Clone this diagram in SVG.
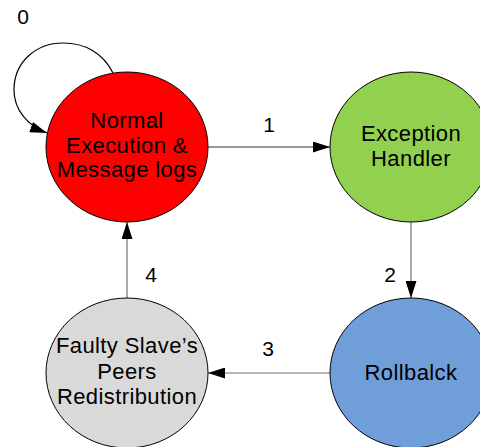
<svg xmlns="http://www.w3.org/2000/svg" width="480" height="447" viewBox="0 0 480 447">
<style>
.node{stroke:#000;stroke-width:1}
.t{font-family:"Liberation Sans",Arial,sans-serif;font-size:22px;letter-spacing:0.4px;fill:#000;text-anchor:middle}
.lbl{font-family:"Liberation Sans",Arial,sans-serif;font-size:21px;fill:#000;text-anchor:middle}
.c{fill:none;stroke-width:1.2}
</style>
<defs>
<marker id="ah" markerUnits="userSpaceOnUse" markerWidth="17" markerHeight="11" refX="17" refY="5.5" orient="auto">
<path d="M0,0 L17,5.5 L0,11 z" fill="#000"/>
</marker>
</defs>
<rect width="480" height="447" fill="#fff"/>
<g id="connectors">
<path class="c" stroke="#000" d="M113,73 C103,53 85,43 63,43 C36,43 14,62 14,90 C14,110 28,126 47,133" marker-end="url(#ah)"/>
<line class="c" stroke="#333" x1="208" y1="147" x2="330" y2="147" marker-end="url(#ah)"/>
<line class="c" stroke="#707070" x1="411" y1="222" x2="411" y2="298" marker-end="url(#ah)"/>
<line class="c" stroke="#707070" x1="330" y1="373" x2="208" y2="373" marker-end="url(#ah)"/>
<line class="c" stroke="#707070" x1="127" y1="298" x2="127" y2="222" marker-end="url(#ah)"/>
<text class="lbl" x="23" y="24">0</text>
<text class="lbl" x="269" y="132">1</text>
<text class="lbl" x="390" y="282">2</text>
<text class="lbl" x="268" y="356">3</text>
<text class="lbl" x="151" y="282">4</text>
</g>
<g id="normal">
<ellipse class="node" cx="127" cy="147" rx="81" ry="75" fill="#FF0000"/>
<text class="t" x="127" y="128">Normal</text>
<text class="t" x="127" y="153">Execution &amp;</text>
<text class="t" x="127" y="177">Message logs</text>
</g>
<g id="exception">
<ellipse class="node" cx="411" cy="147" rx="81" ry="75" fill="#92D050"/>
<text class="t" x="411" y="141">Exception</text>
<text class="t" x="411" y="166">Handler</text>
</g>
<g id="rollback">
<ellipse class="node" cx="411" cy="373" rx="81" ry="75" fill="#709ED9"/>
<text class="t" x="411" y="380">Rollbalck</text>
</g>
<g id="redistribution">
<ellipse class="node" cx="127" cy="373" rx="81" ry="75" fill="#D9D9D9"/>
<text class="t" x="127" y="353">Faulty Slave’s</text>
<text class="t" x="127" y="379">Peers</text>
<text class="t" x="127" y="404">Redistribution</text>
</g>
</svg>
